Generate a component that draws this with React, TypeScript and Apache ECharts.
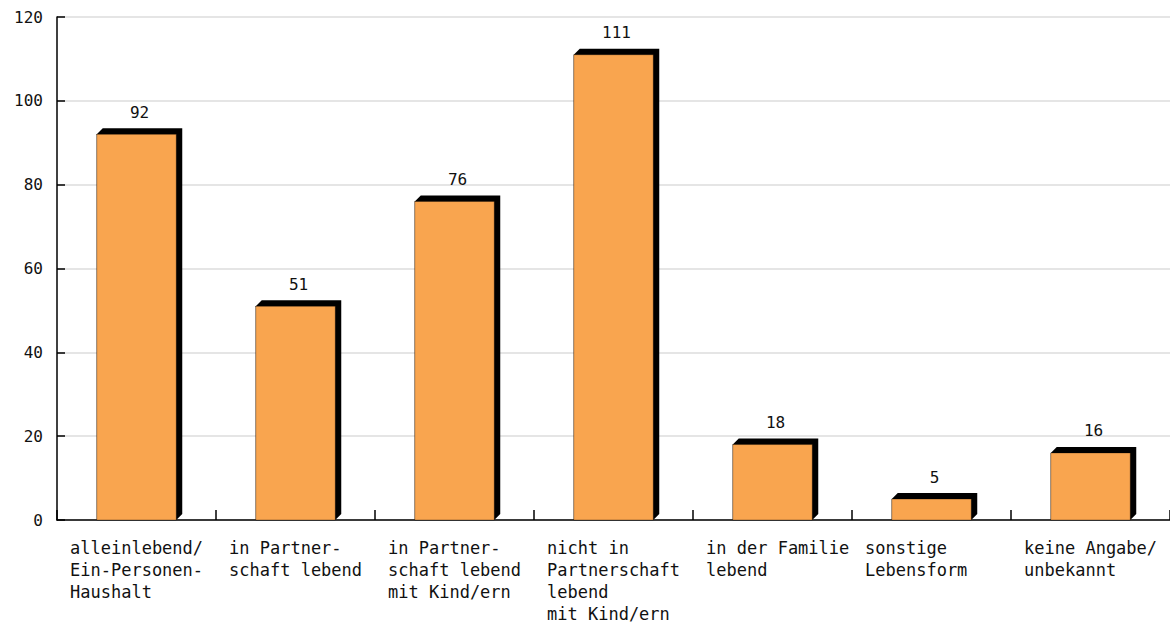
import React, { useEffect, useRef } from "react";
import * as echarts from "echarts";

// Lebensform categories and counts
const categories = [
  "alleinlebend/\nEin-Personen-\nHaushalt",
  "in Partner-\nschaft lebend",
  "in Partner-\nschaft lebend\nmit Kind/ern",
  "nicht in\nPartnerschaft\nlebend\nmit Kind/ern",
  "in der Familie\nlebend",
  "sonstige\nLebensform",
  "keine Angabe/\nunbekannt",
];
const counts = [92, 51, 76, 111, 18, 5, 16];

const Y_MIN = 0;
const Y_MAX = 120;
const Y_STEP = 20;

const BAR_COLOR = "#F9A54F";
const SHADOW = 6;
const FONT = "'DejaVu Sans Mono', 'Liberation Mono', monospace";

const W = 1170;
const H = 625;
const GRID_LEFT = 57;
const GRID_RIGHT = 0;
const BAND = (W - GRID_LEFT - GRID_RIGHT) / categories.length;

export default function App() {
  const ref = useRef<HTMLDivElement>(null);

  useEffect(() => {
    if (!ref.current) return;
    const chart = echarts.init(ref.current, null, { renderer: "svg" });

    // Each bar: a black extruded shadow behind an orange face, with its value on top
    const renderItem = (params: any, api: any) => {
      const idx = api.value(0);
      const val = api.value(1);
      const top = api.coord([idx, val]);
      const base = api.coord([idx, 0]);
      const band = api.size([1, 0])[0];
      const bw = band * 0.5;
      const x0 = top[0] - bw / 2;
      const x1 = top[0] + bw / 2;
      const yt = top[1];
      const yb = base[1];
      const d = SHADOW;
      return {
        type: "group",
        children: [
          {
            type: "polygon",
            shape: {
              points: [
                [x0, yt],
                [x0 + d, yt - d],
                [x1 + d, yt - d],
                [x1 + d, yb - d],
                [x1, yb],
                [x0, yb],
              ],
            },
            style: { fill: "#000" },
          },
          {
            type: "rect",
            shape: { x: x0, y: yt, width: bw, height: yb - yt },
            style: { fill: BAR_COLOR, stroke: "rgba(0,0,0,0.3)", lineWidth: 1 },
          },
          {
            type: "text",
            x: top[0] + d / 2,
            y: yt - d - 8,
            style: {
              text: String(val),
              fill: "#111",
              font: `16px ${FONT}`,
              align: "center",
              verticalAlign: "bottom",
            },
          },
        ],
      };
    };

    chart.setOption({
      animation: false,
      backgroundColor: "#fff",
      grid: { left: GRID_LEFT, right: GRID_RIGHT, top: 17, bottom: 101, containLabel: false },
      xAxis: {
        type: "category",
        data: categories,
        axisLine: { show: true, lineStyle: { color: "#000", width: 1.5 } },
        axisTick: { show: true, inside: true, length: 10, lineStyle: { color: "#000", width: 1.5 } },
        axisLabel: {
          color: "#111",
          fontFamily: "DejaVu Sans Mono",
          fontSize: 17,
          lineHeight: 22,
          align: "left",
          verticalAlign: "top",
          margin: 17,
          padding: [0, 0, 0, -(BAND / 2 - 13)],
          interval: 0,
        },
        splitLine: { show: false },
      },
      yAxis: {
        type: "value",
        min: Y_MIN,
        max: Y_MAX,
        interval: Y_STEP,
        axisLine: { show: true, lineStyle: { color: "#000", width: 1.5 } },
        axisTick: { show: true, inside: true, length: 8, lineStyle: { color: "#000", width: 1.5 } },
        axisLabel: { color: "#111", fontFamily: "DejaVu Sans Mono", fontSize: 16, margin: 14 },
        splitLine: { show: true, lineStyle: { color: "#dcdcdc", width: 1.5 } },
      },
      series: [
        {
          type: "custom",
          renderItem,
          encode: { x: 0, y: 1 },
          data: counts.map((v, i) => [i, v]),
          clip: false,
          z: 3,
        },
      ],
    });

    return () => chart.dispose();
  }, []);

  return (
    <div
      ref={ref}
      style={{ position: "absolute", left: 0, top: 0, width: W, height: H, background: "#fff" }}
    />
  );
}
